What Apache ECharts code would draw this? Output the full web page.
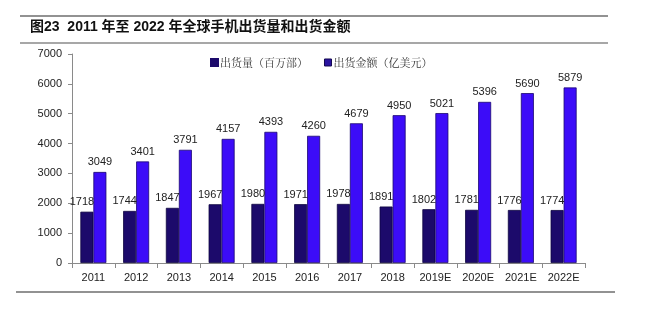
<!DOCTYPE html>
<html>
<head>
<meta charset="utf-8">
<script src="https://cdn.jsdelivr.net/npm/echarts@6/dist/echarts.min.js"></script>
<style>
  html, body { margin: 0; padding: 0; background: #fff; }
  #chart { width: 645px; height: 324px; }
</style>
</head>
<body>
<div id="chart"></div>
<script>
// Global handset shipments and shipment value, 2011-2022E
const years = ['2011', '2012', '2013', '2014', '2015', '2016', '2017', '2018', '2019E', '2020E', '2021E', '2022E'];
const shipments = [1718, 1744, 1847, 1967, 1980, 1971, 1978, 1891, 1802, 1781, 1776, 1774];
const shipmentValue = [3049, 3401, 3791, 4157, 4393, 4260, 4679, 4950, 5021, 5396, 5690, 5879];
const yTicks = [0, 1000, 2000, 3000, 4000, 5000, 6000, 7000];

const chart = echarts.init(document.getElementById('chart'), null, { renderer: 'canvas' });

const labelBase = {
  show: true,
  position: 'top',
  distance: 4,
  color: '#222',
  fontFamily: 'Liberation Sans, Arial, sans-serif',
  fontSize: 11
};

chart.setOption({
  animation: false,
  backgroundColor: '#fff',
  title: {
    text: '图23  2011 年至 2022 年全球手机出货量和出货金额',
    left: 25,
    top: 15,
    textStyle: {
      fontFamily: 'Liberation Sans, "Noto Sans CJK SC", sans-serif',
      fontWeight: 'bold',
      fontSize: 14,
      color: '#111'
    }
  },
  legend: {
    left: 205,
    top: 52,
    itemWidth: 7,
    itemHeight: 7,
    itemGap: 16,
    icon: 'rect',
    textStyle: {
      fontFamily: '"Noto Serif CJK SC", "Noto Sans CJK SC", serif',
      fontSize: 11,
      color: '#333',
      padding: [0, 0, 0, -3]
    },
    data: [
      { name: '出货量（百万部）', itemStyle: { color: '#1c0a6b', borderColor: '#1c0a6b' } },
      { name: '出货金额（亿美元）', itemStyle: { color: '#2a14a0', borderColor: '#140850', borderWidth: 1 } }
    ]
  },
  grid: { left: 72, right: 60, top: 54, bottom: 61 },
  xAxis: {
    type: 'category',
    data: years,
    axisLine: { lineStyle: { color: '#8a8a8a', width: 1 } },
    axisTick: { show: true, alignWithLabel: false, length: 5, lineStyle: { color: '#8a8a8a' } },
    axisLabel: {
      color: '#222',
      fontFamily: 'Liberation Sans, Arial, sans-serif',
      fontSize: 11,
      margin: 9,
      interval: 0
    }
  },
  yAxis: {
    type: 'value',
    min: yTicks[0],
    max: yTicks[yTicks.length - 1],
    interval: 1000,
    axisLine: { show: true, lineStyle: { color: '#8a8a8a', width: 1 } },
    axisTick: { show: true, inside: false, length: 4, lineStyle: { color: '#8a8a8a' } },
    splitLine: { show: false },
    axisLabel: {
      color: '#222',
      fontFamily: 'Liberation Sans, Arial, sans-serif',
      fontSize: 11,
      margin: 10,
      formatter: (v) => String(v)
    }
  },
  series: [
    {
      name: '出货量（百万部）',
      type: 'bar',
      data: shipments,
      barWidth: 13,
      barGap: '0%',
      itemStyle: { color: '#1c0a6b', borderColor: '#0e0540', borderWidth: 0.8 },
      label: Object.assign({}, labelBase, { offset: [-5, 0] })
    },
    {
      name: '出货金额（亿美元）',
      type: 'bar',
      data: shipmentValue,
      barWidth: 13,
      barGap: '0%',
      itemStyle: { color: '#3c0cf8', borderColor: '#1a0870', borderWidth: 0.8 },
      label: labelBase
    }
  ],
  graphic: [
    { type: 'line', shape: { x1: 20, y1: 16, x2: 608, y2: 16 }, style: { stroke: '#6e6e6e', lineWidth: 1.5 } },
    { type: 'line', shape: { x1: 20, y1: 43, x2: 608, y2: 43 }, style: { stroke: '#8a8a8a', lineWidth: 1.5 } },
    { type: 'line', shape: { x1: 16, y1: 292, x2: 615, y2: 292 }, style: { stroke: '#6e6e6e', lineWidth: 1.5 } }
  ]
});
</script>
</body>
</html>
